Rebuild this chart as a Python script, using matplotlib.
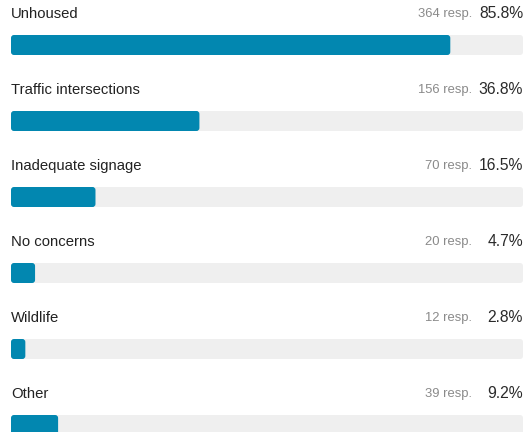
import matplotlib
matplotlib.use('Agg')
import matplotlib.pyplot as plt
from matplotlib.patches import FancyBboxPatch
import numpy as np

categories = ['Unhoused', 'Traffic intersections', 'Inadequate signage',
              'No concerns', 'Wildlife', 'Other']
responses = [364, 156, 70, 20, 12, 39]
percents = [85.8, 36.8, 16.5, 4.7, 2.8, 9.2]

fill_color = '#0287b0'
track_color = '#efefef'

plt.rcParams['font.family'] = ['Liberation Sans', 'DejaVu Sans']

W, H = 526, 432
fig = plt.figure(figsize=(W / 100, H / 100), dpi=100)
# axes spans the bar track horizontally (x 11..523 px), whole height vertically
ax = fig.add_axes([11 / W, 0, 512 / W, 1])
pitch = 76.0
top = 45.0  # centre of first bar, px
ax.set_xlim(0, 100)
ax.set_ylim((H - top) / pitch, -top / pitch)
ax.axis('off')

rows = np.arange(len(categories))
bar_h = 20 / pitch
track = ax.barh(rows, [100] * len(rows), height=bar_h, color=track_color)
fill = ax.barh(rows, percents, height=bar_h, color=fill_color)

# swap the plain rectangles for slightly rounded ones
radius = 3 / 5.12          # ~3 px in x data units
aspect = 5.12 / pitch      # px per x unit / px per y unit
for bars in (track, fill):
    for r in bars:
        fb = FancyBboxPatch((r.get_x(), r.get_y()), r.get_width(), r.get_height(),
                            boxstyle='round,pad=0,rounding_size=%f' % radius,
                            mutation_aspect=aspect, fc=r.get_facecolor(),
                            ec='none', zorder=r.get_zorder())
        r.remove()
        ax.add_patch(fb)

label_off = 31 / pitch
for i in rows:
    y = i - label_off
    ax.text(0, y, categories[i], fontsize=10.7, color='#222222',
            ha='left', va='center', clip_on=False)
    ax.text(100, y, '%.1f%%' % percents[i], fontsize=11.3, color='#2a2a2a',
            ha='right', va='center', clip_on=False)
    ax.text((472 - 11) / 512 * 100, y, '%d resp.' % responses[i], fontsize=9.4,
            color='#8a8a8a', ha='right', va='center', clip_on=False)

fig.savefig('out.png', dpi=100)
